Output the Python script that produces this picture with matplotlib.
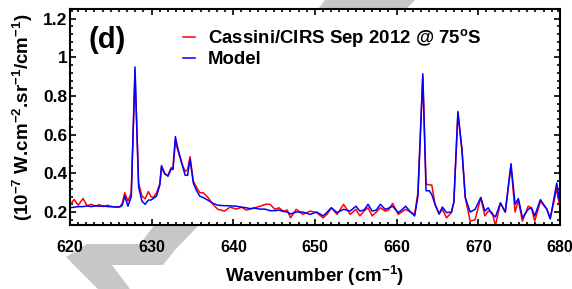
import numpy as np
import matplotlib
matplotlib.use('Agg')
import matplotlib.pyplot as plt
from matplotlib.patches import Polygon
from matplotlib.ticker import MultipleLocator

plt.rcParams['font.family'] = ['Liberation Sans', 'DejaVu Sans']
plt.rcParams['font.weight'] = 'bold'
plt.rcParams['axes.labelweight'] = 'bold'
plt.rcParams['mathtext.fontset'] = 'custom'
plt.rcParams['mathtext.rm'] = 'Liberation Sans:bold'
plt.rcParams['mathtext.bf'] = 'Liberation Sans:bold'
plt.rcParams['mathtext.default'] = 'bf'

# spectra
wavenumber = [620.0, 620.5, 621.0, 621.6, 622.1, 622.6, 623.1, 623.6, 624.1, 624.6,
              625.1, 625.6, 626.1, 626.4, 626.7, 627.1, 627.5, 627.96, 628.4, 628.8,
              629.2, 629.6, 629.9, 630.2, 630.6, 631.0, 631.2, 631.6, 632.0, 632.4,
              632.6, 632.9, 633.2, 633.7, 634.1, 634.4, 634.7, 635.1, 635.5, 635.9,
              636.3, 636.9, 637.5, 638.1, 638.9, 639.6, 640.4, 641.0, 641.6, 642.0,
              642.6, 643.3, 643.9, 644.5, 645.1, 645.6, 646.1, 646.6, 647.0, 647.7,
              648.5, 649.4, 650.2, 651.0, 651.5, 652.0, 652.7, 653.5, 654.3, 655.0,
              655.5, 656.0, 656.5, 657.0, 657.5, 658.0, 658.6, 659.0, 659.5, 660.2,
              660.6, 661.1, 661.7, 662.2, 662.6, 663.2, 663.6, 664.0, 664.3, 664.7,
              665.2, 665.6, 666.1, 666.7, 667.0, 667.5, 668.0, 668.4, 669.0, 669.6,
              670.3, 670.8, 671.2, 671.7, 672.1, 672.7, 673.3, 674.0, 674.5, 674.9,
              675.4, 676.1, 676.5, 676.9, 677.6, 678.4, 678.8, 679.6, 680.0]

cirs = [0.235, 0.265, 0.235, 0.270, 0.232, 0.240, 0.230, 0.238, 0.228, 0.235,
        0.228, 0.226, 0.228, 0.245, 0.300, 0.257, 0.300, 0.910, 0.350, 0.283,
        0.268, 0.306, 0.280, 0.275, 0.300, 0.346, 0.430, 0.396, 0.390, 0.430,
        0.420, 0.560, 0.520, 0.450, 0.410, 0.420, 0.486, 0.360, 0.327, 0.300,
        0.300, 0.275, 0.240, 0.214, 0.205, 0.225, 0.215, 0.225, 0.210, 0.214,
        0.222, 0.230, 0.240, 0.240, 0.214, 0.222, 0.205, 0.210, 0.170, 0.214,
        0.188, 0.205, 0.197, 0.170, 0.190, 0.222, 0.188, 0.240, 0.188, 0.214,
        0.180, 0.205, 0.222, 0.180, 0.200, 0.222, 0.205, 0.210, 0.245, 0.188,
        0.200, 0.214, 0.200, 0.188, 0.300, 0.900, 0.345, 0.340, 0.340, 0.240,
        0.190, 0.214, 0.170, 0.197, 0.250, 0.710, 0.520, 0.275, 0.153, 0.160,
        0.275, 0.180, 0.205, 0.197, 0.130, 0.247, 0.200, 0.440, 0.200, 0.262,
        0.153, 0.230, 0.222, 0.153, 0.255, 0.214, 0.165, 0.320, 0.220]

model = [0.222, 0.225, 0.228, 0.228, 0.232, 0.228, 0.232, 0.230, 0.232, 0.228,
         0.228, 0.226, 0.226, 0.235, 0.283, 0.230, 0.280, 0.950, 0.330, 0.257,
         0.240, 0.262, 0.262, 0.270, 0.283, 0.340, 0.440, 0.400, 0.385, 0.425,
         0.420, 0.590, 0.530, 0.450, 0.390, 0.390, 0.474, 0.350, 0.310, 0.282,
         0.275, 0.261, 0.245, 0.235, 0.233, 0.232, 0.230, 0.225, 0.222, 0.218,
         0.220, 0.215, 0.215, 0.207, 0.207, 0.210, 0.203, 0.200, 0.190, 0.200,
         0.200, 0.188, 0.200, 0.180, 0.200, 0.222, 0.197, 0.214, 0.205, 0.230,
         0.205, 0.210, 0.240, 0.205, 0.210, 0.240, 0.214, 0.220, 0.230, 0.197,
         0.210, 0.230, 0.200, 0.180, 0.280, 0.915, 0.310, 0.310, 0.290, 0.240,
         0.190, 0.226, 0.197, 0.200, 0.250, 0.720, 0.518, 0.275, 0.200, 0.214,
         0.275, 0.205, 0.222, 0.188, 0.175, 0.247, 0.200, 0.450, 0.240, 0.270,
         0.170, 0.214, 0.222, 0.180, 0.264, 0.214, 0.165, 0.350, 0.240]

W, H = 572, 289
fig = plt.figure(figsize=(W / 100, H / 100), dpi=100)

# grey watermark behind the axes (pixel outline, y from top)
mark_px = [(325, 0), (415, 0), (175, 250), (163, 265), (112, 265), (130, 289),
           (98, 289), (66, 257), (87, 244), (140, 244)]
mark = Polygon([(x / W, 1 - y / H) for x, y in mark_px], closed=True,
               transform=fig.transFigure, facecolor='#c6c7c8', edgecolor='none',
               zorder=-5)
fig.patches.append(mark)

ax = fig.add_axes([70 / W, 1 - 225 / H, 490 / W, 216 / H])
ax.set_facecolor('white')

ax.plot(wavenumber, cirs, color='#ff0000', lw=1.1, label='Cassini/CIRS Sep 2012 @ 75$^{o}$S')
ax.plot(wavenumber, model, color='#0000ff', lw=1.1, label='Model')

ax.set_xlim(620, 680)
ax.set_ylim(0.133, 1.25)
ax.xaxis.set_major_locator(MultipleLocator(10))
ax.xaxis.set_minor_locator(MultipleLocator(1))
ax.yaxis.set_minor_locator(MultipleLocator(0.04))
ax.set_yticks([0.2, 0.4, 0.6, 0.8, 1.0, 1.2])
ax.set_yticklabels(['0.2', '0.4', '0.6', '0.8', '1', '1.2'])

ax.tick_params(which='both', direction='in', top=True, right=True, width=1.2)
ax.tick_params(which='major', length=4.5)
ax.tick_params(which='minor', length=2.5)
ax.tick_params(axis='x', labelsize=11.5, pad=10.5)
ax.tick_params(axis='y', labelsize=12.5, pad=2)
for lab in ax.get_xticklabels() + ax.get_yticklabels():
    lab.set_fontweight('bold')
for s in ax.spines.values():
    s.set_linewidth(1.5)

ax.set_xlabel('Wavenumber (cm$^{-1}$)', fontsize=13.5, labelpad=7)
ax.set_ylabel('(10$^{-7}$ W.cm$^{-2}$.sr$^{-1}$/cm$^{-1}$)', fontsize=13.5, labelpad=6)

ax.text(18 / 490, 0.855, '(d)', transform=ax.transAxes, fontsize=21,
        va='center', ha='left')

ax.legend(loc='upper left', bbox_to_anchor=(113 / 490, 0.915), frameon=False,
          fontsize=13.4, handlelength=0.65, handletextpad=0.7, labelspacing=0.1,
          borderaxespad=0, borderpad=0)

fig.savefig('out.png', dpi=100)
